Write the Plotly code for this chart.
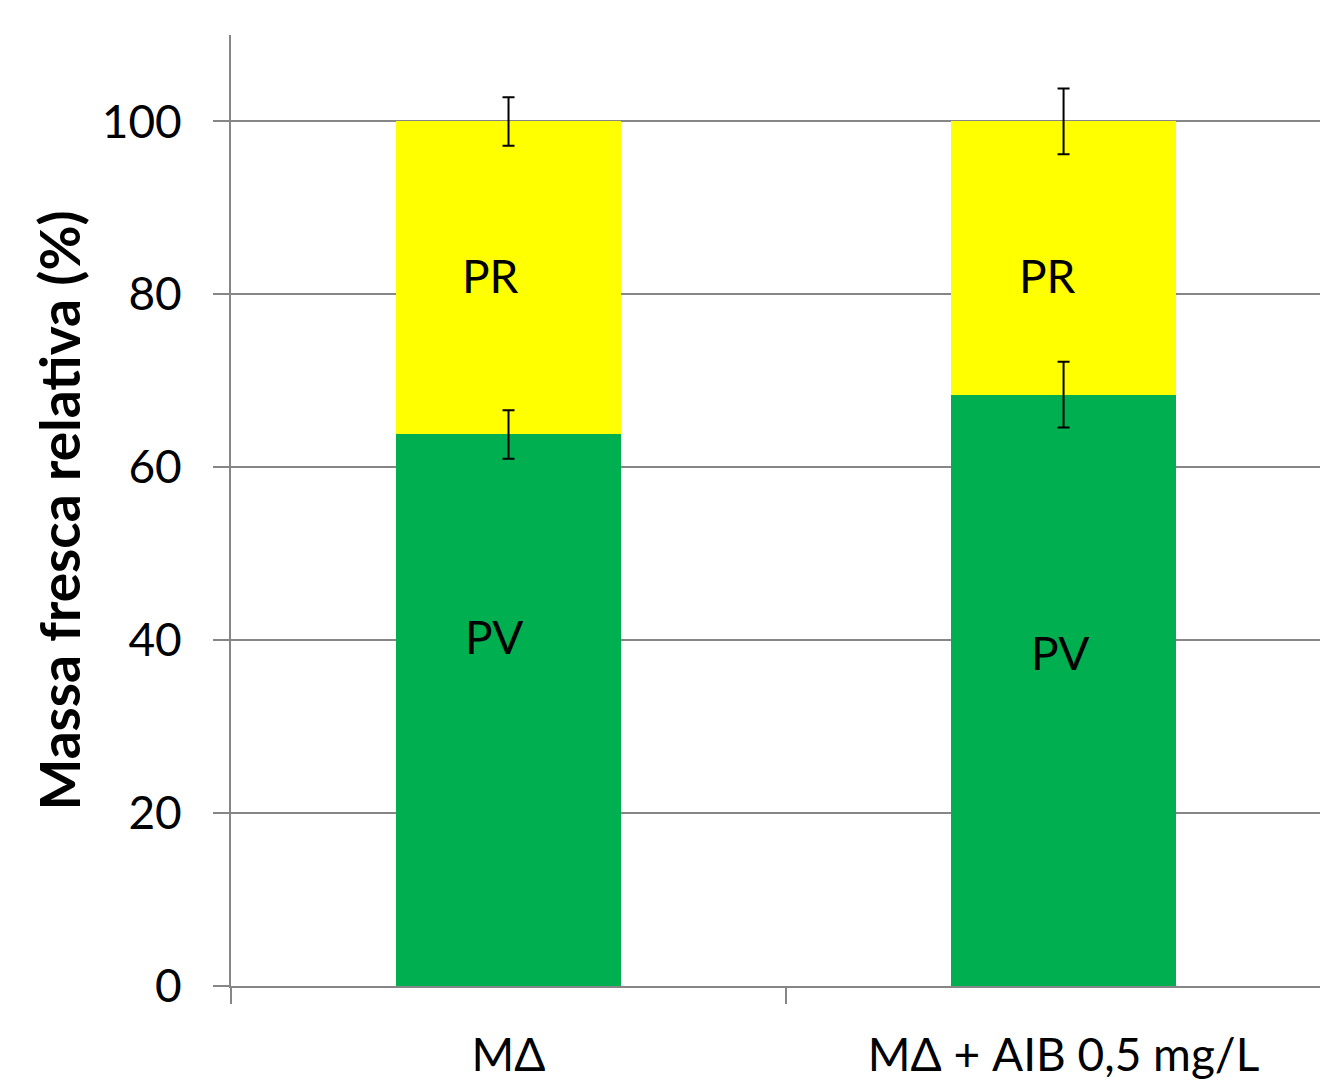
import plotly.graph_objects as go

categories = ["MΔ", "MΔ + AIB 0,5 mg/L"]
pv_values = [63.8, 68.4]
pv_errors = [2.8, 3.8]
pr_values = [36.2, 31.6]
pr_errors = [2.8, 3.8]
y_ticks = [0, 20, 40, 60, 80, 100]

FONT = "Lato"
GRID = "#868686"

fig = go.Figure()
fig.add_trace(go.Bar(
    x=categories, y=pv_values, name="PV", marker_color="#00B050",
    marker_line_width=0, width=0.404,
))
fig.add_trace(go.Bar(
    x=categories, y=pr_values, name="PR", marker_color="#FFFF00",
    marker_line_width=0, width=0.404,
))

# error bars drawn on top of both stacked segments
pv_tops = list(pv_values)
pr_tops = [a + b for a, b in zip(pv_values, pr_values)]
for tops, errs in ((pv_tops, pv_errors), (pr_tops, pr_errors)):
    fig.add_trace(go.Scatter(
        x=categories, y=tops, mode="markers",
        marker=dict(size=1, color="rgba(0,0,0,0)"),
        error_y=dict(type="data", array=errs, color="black", thickness=2, width=6),
        hoverinfo="skip",
    ))

labels = [
    (0, 82.2, "PR", -18), (0, 40.4, "PV", -15),
    (1, 82.2, "PR", -16), (1, 38.6, "PV", -4),
]
for xi, yv, txt, xs in labels:
    fig.add_annotation(x=categories[xi], y=yv, text=txt, showarrow=False,
                       xshift=xs, font=dict(family=FONT, size=46, color="black"))

fig.update_layout(
    barmode="stack",
    width=1320, height=1081,
    margin=dict(l=231, r=0, t=35, b=95),
    plot_bgcolor="white", paper_bgcolor="white",
    showlegend=False,
    font=dict(family=FONT, size=46, color="black"),
)
fig.update_xaxes(
    type="category", range=[-0.5, 1.462],
    showline=True, linecolor=GRID, linewidth=2,
    ticks="outside", ticklen=16, tickcolor=GRID, tickwidth=2,
    tickson="boundaries", showgrid=False,
    ticklabelstandoff=28,
    tickfont=dict(family=FONT, size=46, color="black"),
)
fig.update_yaxes(
    range=[0, 110], tickvals=y_ticks,
    showline=True, linecolor=GRID, linewidth=2,
    ticks="outside", ticklen=16, tickcolor=GRID, tickwidth=2,
    showgrid=True, gridcolor=GRID, gridwidth=2,
    zeroline=False,
    ticklabelstandoff=22,
    tickfont=dict(family=FONT, size=46, color="black"),
    title=dict(text="<b>Massa fresca relativa (%)</b>", standoff=4,
               font=dict(family=FONT, size=55, color="black")),
)

fig.write_html(
    "out.html",
    config={"displayModeBar": False},
    post_script="document.body.style.margin='0';document.body.style.overflow='hidden';",
)
